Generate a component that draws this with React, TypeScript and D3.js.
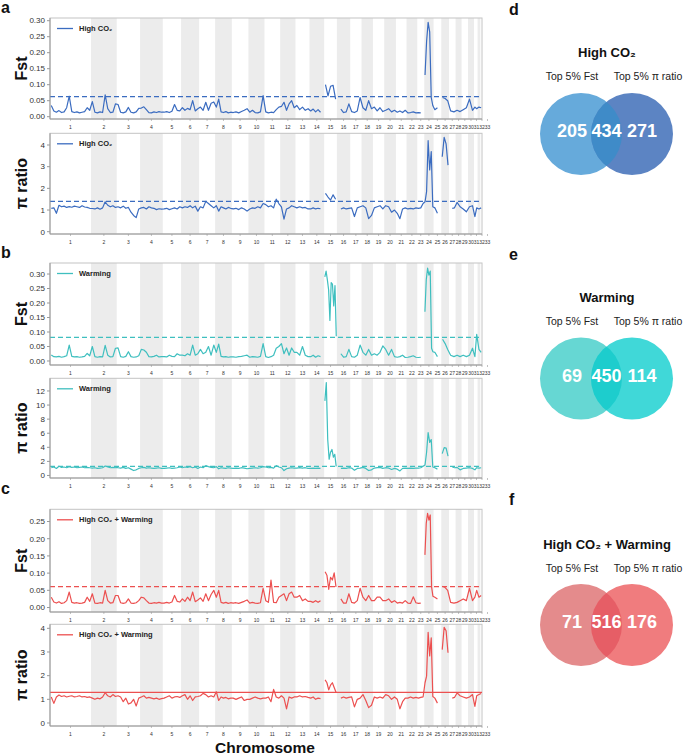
import React from "react";
import * as d3 from "d3";

type V = number | null;

// ---------- DATA ----------
const chromosomeLabels = ["1","2","3","4","5","6","7","8","9","10","11","12","13","14","15","16","17","18","19","20","21","22","23","24","25","26","27","28","29","30","31","32","33"];
// relative chromosome lengths
const chromLengths = [41, 25.7, 23.3, 22.7, 18.3, 18, 16, 16.7, 16.6, 16, 15.7, 15.3, 14, 14.7, 12.7, 13.3, 11.3, 11.4, 11.3, 11.7, 10.6, 10.7, 7, 9.3, 7.7, 7.7, 6.6, 6, 6.4, 6, 3.6, 2.7, 1.7];

const fstHighCO2: V[][] = [
  [0.035, 0.018, 0.014, 0.019, 0.013, 0.015, 0.028, 0.064, 0.016, 0.013, 0.015, 0.012, 0.014, 0.016, 0.028, 0.02],
  [0.047, 0.014, 0.012, 0.015, 0.013, 0.068, 0.025, 0.013, 0.014, 0.04],
  [0.038, 0.014, 0.012, 0.015, 0.029, 0.014, 0.012, 0.015, 0.026],
  [0.027, 0.031, 0.022, 0.013, 0.012, 0.015, 0.013, 0.016, 0.014],
  [0.014, 0.016, 0.013, 0.017, 0.038, 0.02, 0.018],
  [0.028, 0.02, 0.026, 0.022, 0.05, 0.018, 0.025],
  [0.03, 0.02, 0.045, 0.02, 0.042, 0.046],
  [0.03, 0.055, 0.015, 0.013, 0.016, 0.012, 0.014],
  [0.013, 0.015, 0.012, 0.016, 0.02, 0.025],
  [0.014, 0.02, 0.013, 0.012, 0.015, 0.066],
  [0.015, 0.012, 0.014, 0.013, 0.022, 0.03],
  [0.032, 0.045, 0.02, 0.04, 0.05, 0.028],
  [0.035, 0.022, 0.03, 0.02, 0.025],
  [0.018, 0.024, 0.015, 0.022, 0.014, null],
  [0.1, 0.065, 0.095, 0.098, 0.055],
  [null, 0.024, 0.013, 0.015, 0.04],
  [0.016, 0.013, 0.018, 0.06],
  [0.028, 0.02, 0.05, 0.025],
  [0.03, 0.018, 0.028, 0.016],
  [0.02, 0.025, 0.015, 0.02],
  [0.014, 0.018, 0.013, 0.02],
  [0.012, 0.013, 0.015, 0.012],
  [0.013, 0.012, null],
  [0.13, 0.235, 0.295, 0.265, 0.06, 0.035],
  [0.022, 0.028, null],
  [0.06, 0.057, 0.05],
  [0.018, 0.015],
  [0.02, 0.016],
  [0.022, 0.028],
  [0.055, 0.02],
  [0.03, 0.025],
  [0.03],
  [0.028],
];

const piHighCO2: V[][] = [
  [1.08, 1.1, 0.85, 1.22, 1.15, 1.18, 1.12, 1.16, 1.13, 1.18, 1.15, 1.12, 1.2, 1.14, 1.12, 1.08],
  [1.07, 1.05, 1.1, 1.04, 1.1, 1.38, 1.22, 1.15, 1.2, 1.12],
  [1.15, 1.1, 1.18, 1.08, 1.12, 0.9, 0.75, 0.65, 1.05],
  [1.1, 1.12, 1.05, 1.15, 1.1, 1.08, 1.02, 1.06, 1.04],
  [1.05, 1.08, 1.02, 1.06, 1.1, 1.05, 1.15],
  [1.1, 1.15, 1.12, 1.2, 1.1, 1.18, 0.95],
  [1.15, 1.1, 1.4, 1.3, 1.2, 1.1],
  [1.2, 0.95, 1.15, 1.1, 1.05, 1.12, 1.08],
  [1.05, 1.08, 1.02, 1.1, 1.05, 0.95],
  [1.05, 1.1, 1.08, 1.15, 1.1, 1.3],
  [1.25, 1.15, 1.2, 1.1, 1.5, 1.3],
  [1.15, 0.58, 1.05, 1.1, 1.2, 1.15],
  [1.1, 1.15, 1.1, 1.12, 1.05],
  [1.05, 1.1, 1.05, 1.08, 1.06, null],
  [1.77, 1.6, 1.46, 1.7, 1.5],
  [null, 1.05, 1.1, 1.05, 1.08],
  [1.1, 0.7, 1.1, 1.15],
  [1.2, 1.1, 0.6, 0.75],
  [1.1, 1.15, 1.2, 1.05],
  [1.2, 1.15, 0.9, 1.0],
  [0.85, 0.6, 1.05, 1.1],
  [1.05, 1.08, 1.05, 1.1],
  [1.08, 1.1, 1.3],
  [1.38, 1.85, 4.2, 2.85, 3.7, 1.15],
  [1.1, 0.85, null],
  [3.46, 4.35, 4.05, 3.07],
  [null, 1.08, 1.1],
  [1.35, 1.15],
  [1.05, 0.92],
  [1.15, 1.2],
  [0.7, 1.1],
  [1.05],
  [1.1],
];

const fstWarming: V[][] = [
  [0.021, 0.015, 0.014, 0.016, 0.013, 0.015, 0.018, 0.055, 0.016, 0.014, 0.015, 0.013, 0.014, 0.016, 0.026, 0.018],
  [0.05, 0.015, 0.013, 0.015, 0.014, 0.054, 0.02, 0.014, 0.015, 0.044],
  [0.045, 0.015, 0.013, 0.016, 0.032, 0.015, 0.013, 0.014, 0.018],
  [0.04, 0.038, 0.03, 0.015, 0.014, 0.016, 0.02, 0.014, 0.015],
  [0.015, 0.014, 0.02, 0.016, 0.015, 0.025, 0.02],
  [0.02, 0.018, 0.025, 0.02, 0.055, 0.02, 0.025],
  [0.04, 0.025, 0.03, 0.05, 0.02, 0.055],
  [0.03, 0.058, 0.016, 0.014, 0.015, 0.013, 0.014],
  [0.014, 0.013, 0.015, 0.016, 0.018, 0.02],
  [0.013, 0.015, 0.014, 0.013, 0.016, 0.06],
  [0.015, 0.012, 0.015, 0.02, 0.044, 0.05],
  [0.06, 0.025, 0.045, 0.02, 0.045, 0.03],
  [0.03, 0.02, 0.05, 0.02, 0.015],
  [0.015, 0.02, 0.013, 0.018, 0.015, null],
  [0.29, 0.31, 0.28, 0.245, 0.14, 0.27, 0.265, 0.19, 0.26, 0.085],
  [null, 0.025, 0.013, 0.015, 0.04],
  [0.015, 0.013, 0.02, 0.055],
  [0.03, 0.02, 0.04, 0.02],
  [0.025, 0.02, 0.03, 0.052],
  [0.04, 0.02, 0.04, 0.015],
  [0.013, 0.015, 0.02, 0.012],
  [0.013, 0.015, 0.018, 0.013],
  [0.012, 0.013, null],
  [0.17, 0.28, 0.32, 0.296, 0.31, 0.044, 0.032],
  [0.03, 0.015, null],
  [0.075, 0.06, 0.04],
  [0.02, 0.015],
  [0.02, 0.015],
  [0.02, 0.015],
  [0.02, 0.044],
  [0.015, 0.092],
  [0.04],
  [0.03],
];

const piWarming: V[][] = [
  [1.1, 1.2, 1.0, 1.3, 1.15, 1.2, 1.1, 1.25, 1.15, 1.2, 1.1, 1.15, 1.2, 1.1, 1.15, 1.1],
  [1.05, 1.1, 1.0, 1.05, 1.1, 1.35, 1.2, 1.1, 1.15, 1.1],
  [1.1, 1.05, 1.15, 1.0, 1.1, 0.9, 0.7, 0.8, 1.0],
  [1.1, 1.15, 1.05, 1.1, 1.05, 1.0, 1.05, 1.1, 1.0],
  [1.0, 1.05, 1.1, 1.0, 1.05, 1.1, 1.2],
  [1.1, 1.2, 1.15, 1.25, 1.1, 1.2, 1.0],
  [1.2, 1.1, 1.4, 1.25, 1.15, 1.1],
  [1.25, 0.95, 1.1, 1.05, 1.0, 1.1, 1.05],
  [1.0, 1.05, 1.0, 1.1, 1.05, 0.95],
  [1.0, 1.05, 1.1, 1.05, 1.1, 1.25],
  [1.2, 1.1, 1.15, 1.05, 1.4, 1.2],
  [1.1, 0.7, 0.95, 1.05, 1.1, 1.05],
  [1.05, 1.1, 1.05, 1.1, 1.0],
  [1.0, 1.05, 1.0, 1.05, 1.0, null],
  [10.6, 13.2, 5.1, 2.3, 3.3, 3.7, 2.6, 3.0, 1.3],
  [null, 1.0, 1.05, 1.0, 1.1],
  [1.05, 0.75, 1.0, 1.05],
  [1.15, 1.0, 0.7, 0.8],
  [1.05, 1.1, 1.15, 1.0],
  [1.1, 1.05, 0.85, 1.0],
  [0.9, 0.65, 1.0, 1.05],
  [1.0, 1.05, 1.0, 1.05],
  [1.05, 1.1, 1.3],
  [1.5, 3.3, 6.1, 4.7, 5.1, 1.2],
  [1.1, 0.9, null],
  [3.1, 3.95, 3.9, 2.75],
  [null, 1.2, 1.1],
  [1.15, 0.8],
  [1.0, 1.05],
  [1.1, 1.0],
  [0.8, 1.1],
  [1.05],
  [1.1],
];

const fstBoth: V[][] = [
  [0.03, 0.016, 0.013, 0.017, 0.012, 0.014, 0.02, 0.045, 0.015, 0.013, 0.014, 0.012, 0.013, 0.015, 0.03, 0.018],
  [0.04, 0.013, 0.012, 0.014, 0.013, 0.05, 0.02, 0.013, 0.014, 0.035],
  [0.035, 0.014, 0.012, 0.014, 0.025, 0.013, 0.012, 0.014, 0.02],
  [0.03, 0.028, 0.02, 0.013, 0.012, 0.014, 0.013, 0.015, 0.013],
  [0.013, 0.015, 0.013, 0.016, 0.035, 0.018, 0.016],
  [0.025, 0.018, 0.03, 0.02, 0.045, 0.017, 0.022],
  [0.028, 0.018, 0.04, 0.02, 0.038, 0.05],
  [0.03, 0.05, 0.015, 0.013, 0.015, 0.012, 0.014],
  [0.013, 0.014, 0.012, 0.015, 0.018, 0.022],
  [0.013, 0.015, 0.013, 0.012, 0.014, 0.056],
  [0.02, 0.015, 0.08, 0.015, 0.014, 0.03],
  [0.035, 0.04, 0.02, 0.04, 0.045, 0.03],
  [0.03, 0.035, 0.02, 0.025, 0.018],
  [0.018, 0.015, 0.02, 0.015, 0.02, null],
  [0.104, 0.094, 0.053, 0.088, 0.08, 0.101, 0.06],
  [null, 0.025, 0.013, 0.013, 0.04],
  [0.015, 0.013, 0.02, 0.056],
  [0.03, 0.02, 0.035, 0.02],
  [0.02, 0.03, 0.03, 0.02],
  [0.02, 0.025, 0.015, 0.02],
  [0.013, 0.015, 0.013, 0.02],
  [0.013, 0.012, 0.031, 0.014],
  [0.012, 0.013, null],
  [0.153, 0.245, 0.274, 0.254, 0.269, 0.06, 0.033],
  [0.03, 0.025, null],
  [0.062, 0.058, 0.05],
  [0.015, 0.013],
  [0.015, 0.02],
  [0.025, 0.02],
  [0.056, 0.02],
  [0.03, 0.05],
  [0.03],
  [0.035],
];

const piBoth: V[][] = [
  [1.1, 0.83, 1.1, 1.18, 1.12, 1.15, 1.1, 1.13, 1.15, 1.1, 1.12, 1.15, 1.1, 1.12, 1.08, 1.1],
  [1.05, 1.0, 1.05, 1.02, 1.1, 1.28, 1.15, 1.1, 1.2, 1.12],
  [1.15, 1.1, 0.9, 1.05, 0.8, 0.85, 1.0, 0.72, 1.05],
  [1.1, 1.15, 1.05, 1.08, 1.05, 1.02, 1.05, 1.0, 1.03],
  [1.05, 1.1, 1.15, 1.05, 1.1, 1.12, 1.08],
  [1.15, 1.2, 1.0, 1.15, 0.95, 1.1, 1.12],
  [1.15, 1.25, 1.2, 1.1, 1.15, 1.1],
  [1.32, 0.95, 1.1, 1.05, 1.08, 1.02, 1.05],
  [1.05, 1.0, 1.05, 1.1, 0.95, 1.0],
  [1.0, 1.05, 1.1, 1.05, 1.02, 1.05],
  [1.05, 1.1, 0.9, 1.42, 1.1, 1.05],
  [1.15, 1.05, 0.6, 1.1, 1.05, 1.1],
  [1.1, 1.15, 1.1, 1.12, 1.08],
  [1.05, 1.1, 1.0, 1.05, 1.03, null],
  [1.82, 1.7, 1.4, 1.6, 1.7, 1.5, 1.3],
  [null, 1.05, 1.1, 1.05, 1.08],
  [1.1, 0.68, 1.0, 1.05],
  [1.2, 0.95, 0.65, 0.75],
  [1.1, 1.05, 1.1, 1.05],
  [1.2, 1.15, 1.0, 1.1],
  [1.0, 0.6, 0.9, 1.05],
  [1.05, 1.1, 1.05, 1.08],
  [1.05, 1.08, 1.1],
  [1.7, 1.98, 3.83, 2.83, 3.6, 1.12],
  [1.05, 0.84, null],
  [3.1, 4.04, 3.9, 2.97],
  [null, 1.05, 1.08],
  [1.27, 1.15],
  [1.1, 1.05],
  [1.1, 1.2],
  [0.7, 1.15],
  [1.2],
  [1.25],
];

const treatments = ["High CO₂", "Warming", "High CO₂ + Warming"];
const fstThresholds = [0.0625, 0.0817, 0.0605];
const piThresholds = [1.4, 1.3, 1.29];
const fstTicks = [[0, 0.05, 0.1, 0.15, 0.2, 0.25, 0.3], [0, 0.05, 0.1, 0.15, 0.2, 0.25, 0.3], [0, 0.05, 0.1, 0.15, 0.2, 0.25]];
const piTicks = [[0, 1, 2, 3, 4], [0, 2, 4, 6, 8, 10, 12], [0, 1, 2, 3, 4]];

const vennFstOnly = [205, 69, 71];
const vennShared = [434, 450, 516];
const vennPiOnly = [271, 114, 176];
const vennSetLabels = ["Top 5% Fst", "Top 5% π ratio"];

// ---------- STYLE / LAYOUT ----------
const FONT = "'Liberation Sans', Arial, Helvetica, sans-serif";
const lineColors = ["#3b6cc0", "#3fbfbf", "#ec5050"];
const vennColors = [
  { left: "#66aadb", right: "#5c84c3", lens: "#3f8bc8" },
  { left: "#66d7d3", right: "#40d8d8", lens: "#1dcdcd" },
  { left: "#e48b8c", right: "#f07c7e", lens: "#e65e66" },
];

const X0 = 50, X1 = 482;

interface PanelProps {
  series: V[][];
  top: number;
  bottom: number;
  domain: [number, number];
  ticks: number[];
  fmt: (v: number) => string;
  title: string;
  legend: string;
  color: string;
  threshold: number;
  dashed: boolean;
}

const total = d3.sum(chromLengths);
const starts = chromLengths.map((_, i) => d3.sum(chromLengths.slice(0, i)));
const xScale = d3.scaleLinear().domain([0, total]).range([X0, X1]);

function labelPositions(): number[] {
  const out: number[] = [];
  chromLengths.forEach((len, i) => {
    const c = xScale(starts[i] + len / 2);
    out.push(i === 0 ? c : Math.max(c, out[i - 1] + 5.5));
  });
  return out;
}
const labelX = labelPositions();

function Panel(p: PanelProps) {
  const y = d3.scaleLinear().domain(p.domain).range([p.bottom, p.top]);
  const pts: { x: number; v: V }[] = [];
  p.series.forEach((vals, ci) => {
    vals.forEach((v, j) => pts.push({ x: starts[ci] + ((j + 0.5) / vals.length) * chromLengths[ci], v }));
  });
  const line = d3
    .line<{ x: number; v: V }>()
    .defined((d) => d.v !== null)
    .x((d) => xScale(d.x))
    .y((d) => y(d.v as number));
  const mid = (p.top + p.bottom) / 2;
  return (
    <g>
      {chromLengths.map((len, i) =>
        i % 2 === 1 ? (
          <rect key={i} x={xScale(starts[i])} y={p.top} width={xScale(starts[i] + len) - xScale(starts[i])} height={p.bottom - p.top} fill="#ececec" />
        ) : null
      )}
      <rect x={X0} y={p.top} width={X1 - X0} height={p.bottom - p.top} fill="none" stroke="#c4c4c4" strokeWidth={1} />
      <line x1={X0} x2={X1} y1={y(p.threshold)} y2={y(p.threshold)} stroke={p.color} strokeWidth={1.2} strokeDasharray={p.dashed ? "5,3" : undefined} />
      <path d={line(pts) || ""} fill="none" stroke={p.color} strokeWidth={1.2} strokeLinejoin="round" />
      <line x1={X0} x2={X0} y1={p.top} y2={p.bottom} stroke="#999" />
      <line x1={X0} x2={X1} y1={p.bottom} y2={p.bottom} stroke="#999" />
      {p.ticks.map((t) => (
        <g key={t}>
          <line x1={X0 - 3} x2={X0} y1={y(t)} y2={y(t)} stroke="#999" />
          <text x={X0 - 5} y={y(t)} dy="0.35em" textAnchor="end" fontSize={8} fill="#333" fontFamily={FONT}>
            {p.fmt(t)}
          </text>
        </g>
      ))}
      {chromosomeLabels.map((lab, i) => (
        <g key={lab}>
          <line x1={labelX[i]} x2={labelX[i]} y1={p.bottom} y2={p.bottom + 2} stroke="#999" strokeWidth={0.6} />
          <text x={labelX[i]} y={p.bottom + 9.5} textAnchor="middle" fontSize={5} fill="#333" fontFamily={FONT}>
            {lab}
          </text>
        </g>
      ))}
      <line x1={57} x2={73} y1={p.top + 10.5} y2={p.top + 10.5} stroke={p.color} strokeWidth={1.3} />
      <text x={79} y={p.top + 10.5} dy="0.35em" fontSize={7.5} fontWeight="bold" fill="#222" fontFamily={FONT}>
        {p.legend}
      </text>
      <text transform={`translate(27,${mid}) rotate(-90)`} textAnchor="middle" fontSize={16} fontWeight="bold" fill="#111" fontFamily={FONT}>
        {p.title}
      </text>
    </g>
  );
}

function Venn({ i, cy, titleY }: { i: number; cy: number; titleY: number }) {
  const r = 41;
  const cxL = 581, cxR = 632;
  const col = vennColors[i];
  const id = `clip${i}`;
  return (
    <g fontFamily={FONT}>
      <text x={607} y={titleY} textAnchor="middle" fontSize={13} fontWeight="bold" fill="#111">
        {treatments[i]}
      </text>
      <text x={572} y={titleY + 23} textAnchor="middle" fontSize={10.5} fill="#222">
        {vennSetLabels[0]}
      </text>
      <text x={648} y={titleY + 23} textAnchor="middle" fontSize={10.5} fill="#222">
        {vennSetLabels[1]}
      </text>
      <defs>
        <clipPath id={id}>
          <circle cx={cxL} cy={cy} r={r} />
        </clipPath>
      </defs>
      <circle cx={cxL} cy={cy} r={r} fill={col.left} />
      <circle cx={cxR} cy={cy} r={r} fill={col.right} />
      <circle cx={cxR} cy={cy} r={r} fill={col.lens} clipPath={`url(#${id})`} />
      <text x={cxL - 9} y={cy + 3} textAnchor="middle" fontSize={18} fontWeight="bold" fill="#fff">
        {vennFstOnly[i]}
      </text>
      <text x={(cxL + cxR) / 2} y={cy + 3} textAnchor="middle" fontSize={18} fontWeight="bold" fill="#fff">
        {vennShared[i]}
      </text>
      <text x={cxR + 10} y={cy + 3} textAnchor="middle" fontSize={18} fontWeight="bold" fill="#fff">
        {vennPiOnly[i]}
      </text>
    </g>
  );
}

const fmt2 = d3.format(".2f");
const fmt0 = d3.format("d");

export default function App() {
  const fstSeries = [fstHighCO2, fstWarming, fstBoth];
  const piSeries = [piHighCO2, piWarming, piBoth];
  const fstLayout = [
    { top: 18, bottom: 119, domain: [-0.0072, 0.3084] as [number, number] },
    { top: 263, bottom: 365, domain: [-0.0138, 0.338] as [number, number] },
    { top: 509.3, bottom: 612, domain: [-0.013, 0.2855] as [number, number] },
  ];
  const piLayout = [
    { top: 133.3, bottom: 234, domain: [-0.106, 4.54] as [number, number] },
    { top: 378.3, bottom: 478, domain: [-0.36, 13.8] as [number, number] },
    { top: 624.3, bottom: 726, domain: [-0.127, 4.17] as [number, number] },
  ];
  const letters = [
    { t: "a", x: 1, y: 13 }, { t: "b", x: 1, y: 258 }, { t: "c", x: 1, y: 494 },
    { t: "d", x: 509, y: 15 }, { t: "e", x: 509, y: 259.5 }, { t: "f", x: 509, y: 505 },
  ];
  return (
    <svg width={685} height={755} style={{ position: "absolute", left: 0, top: 0, background: "#fff" }}>
      <rect x={0} y={0} width={685} height={755} fill="#fff" />
      {[0, 1, 2].map((i) => (
        <g key={i}>
          <Panel series={fstSeries[i]} {...fstLayout[i]} ticks={fstTicks[i]} fmt={fmt2} title="Fst" legend={treatments[i]} color={lineColors[i]} threshold={fstThresholds[i]} dashed={true} />
          <Panel series={piSeries[i]} {...piLayout[i]} ticks={piTicks[i]} fmt={fmt0} title="π ratio" legend={treatments[i]} color={lineColors[i]} threshold={piThresholds[i]} dashed={i !== 2} />
        </g>
      ))}
      <text x={265} y={753} textAnchor="middle" fontSize={15.5} fontWeight="bold" fill="#111" fontFamily={FONT}>
        Chromosome
      </text>
      {letters.map((l) => (
        <text key={l.t} x={l.x} y={l.y} fontSize={16} fontWeight="bold" fill="#111" fontFamily={FONT}>
          {l.t}
        </text>
      ))}
      <Venn i={0} cy={134} titleY={57} />
      <Venn i={1} cy={378.5} titleY={302} />
      <Venn i={2} cy={625} titleY={548.5} />
    </svg>
  );
}
